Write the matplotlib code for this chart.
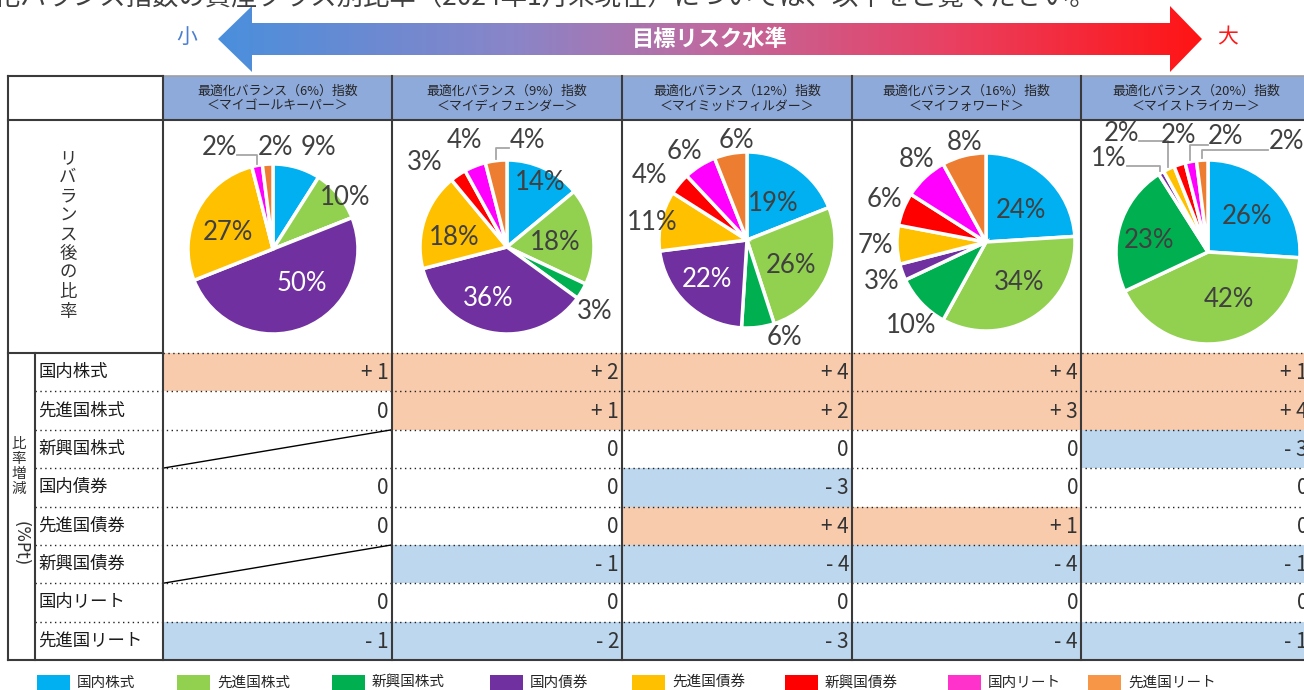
import matplotlib.pyplot as plt
import numpy as np
from matplotlib.colors import LinearSegmentedColormap
from matplotlib.patches import Polygon

plt.rcParams['font.family'] = ['Noto Sans CJK JP', 'DejaVu Sans']

# -------------------------------------------------
# DATA
# -------------------------------------------------

assets = ["国内株式", "先進国株式", "新興国株式", "国内債券",
          "先進国債券", "新興国債券", "国内リート", "先進国リート"]

index_names = ["最適化バランス（6%）指数", "最適化バランス（9%）指数",
               "最適化バランス（12%）指数", "最適化バランス（16%）指数",
               "最適化バランス（20%）指数"]
nicknames = ["＜マイゴールキーパー＞", "＜マイディフェンダー＞",
             "＜マイミッドフィルダー＞", "＜マイフォワード＞", "＜マイストライカー＞"]

# after-rebalance weights (%), same order as assets
weights_6 = [9, 10, 0, 50, 27, 0, 2, 2]
weights_9 = [14, 18, 3, 36, 18, 3, 4, 4]
weights_12 = [19, 26, 6, 22, 11, 4, 6, 6]
weights_16 = [24, 34, 10, 3, 7, 6, 8, 8]
weights_20 = [26, 42, 23, 1, 2, 2, 2, 2]

# change in weight (%Pt), None = not held
change_6 = [1, 0, None, 0, 0, None, 0, -1]
change_9 = [2, 1, 0, 0, 0, -1, 0, -2]
change_12 = [4, 2, 0, -3, 4, -4, 0, -3]
change_16 = [4, 3, 0, 0, 1, -4, 0, -4]
change_20 = [1, 4, -3, 0, 0, -1, 0, -1]

weights = [weights_6, weights_9, weights_12, weights_16, weights_20]
changes = [change_6, change_9, change_12, change_16, change_20]

top_note = "最適化バランス指数の資産クラス別比率（2024年1月末現在）については、以下をご覧ください。"

# -------------------------------------------------
# STYLE / LAYOUT
# -------------------------------------------------

pie_colors = ["#00b0f0", "#92d050", "#00b050", "#7030a0",
              "#ffc000", "#ff0000", "#ff00ff", "#ed7d31"]
legend_colors = ["#00b0f0", "#92d050", "#00b050", "#7030a0",
                 "#ffc000", "#ff0000", "#ff33cc", "#f79646"]
plus_fill = "#f8cbad"
minus_fill = "#bdd7ee"
header_fill = "#8eaadb"
line_col = "#3a3a3a"
text_col = "#333333"

col_edges = [163, 392, 622, 852, 1081, 1311]
left_x, sub_x = 8, 35
head_top, head_bot, pie_bot, table_bot = 76, 120, 353, 660
row_h = (table_bot - pie_bot) / len(assets)

pie_centers = [(273, 249), (507, 247), (747, 240), (986, 242), (1208, 252)]
pie_radius = [85, 87, 88, 89, 92]

# label distance (x radius) and angle nudge (deg) per slice
label_dist = [
    [1.31, 1.04, 0, 0.53, 0.56, 0, 1.35, 1.19],
    [0.83, 0.56, 1.25, 0.63, 0.62, 1.35, 1.32, 1.25],
    [0.51, 0.58, 1.19, 0.64, 1.10, 1.33, 1.23, 1.14],
    [0.53, 0.59, 1.26, 1.25, 1.24, 1.24, 1.21, 1.14],
    [0.57, 0.57, 0.65, 1.48, 1.60, 1.31, 1.27, 1.47],
]
label_nudge = [
    [8, 4, 0, -19, -7, 0, -17, 5],
    [2, 2, 6, 9, -8, -10, 0, 18],
    [1, 5, -14, 2, -2, -6, -3, 5],
    [5, -7, -5, -1, 0, 1, 3, 2],
    [1, -13, -5, -16, -11, 4, 19.5, 39],
]
leaders = [[6], [7], [], [], [3, 4, 6, 7]]

legend_x = [37, 177, 332, 490, 632, 785, 948, 1088]

# -------------------------------------------------
# FIGURE
# -------------------------------------------------

fig = plt.figure(figsize=(13.04, 6.90), dpi=100)
ax = fig.add_axes([0, 0, 1, 1])

# top note (cut off by the page edge)
ax.text(1096, 5, top_note, ha="right", va="baseline", fontsize=19, color="#404040")

# gradient arrow
arrow = Polygon([(218, 39), (252, 6), (252, 23), (1170, 23), (1170, 6), (1202, 39),
                 (1170, 72), (1170, 55), (252, 55), (252, 72)],
                closed=True, facecolor="none", edgecolor="none", transform=ax.transData)
ax.add_patch(arrow)
risk_cmap = LinearSegmentedColormap.from_list(
    "risk", [(0, "#4a8fdc"), (0.3, "#8a85c8"), (0.5, "#bf6aa0"), (0.75, "#ea3f60"), (1, "#ff1414")])
im = ax.imshow(np.linspace(0, 1, 256)[None, :], extent=(218, 1202, 72, 6),
               cmap=risk_cmap, aspect="auto", zorder=2)
im.set_clip_path(arrow)
ax.text(710, 39, "目標リスク水準", ha="center", va="center", fontsize=16,
        fontweight="bold", color="white", zorder=3)
ax.text(187, 37, "小", ha="center", va="center", fontsize=15, color="#4a7fd0")
ax.text(1228, 37, "大", ha="center", va="center", fontsize=15, color="#ff1a1a")

# header cells
for k in range(5):
    x0, x1 = col_edges[k], col_edges[k + 1]
    ax.bar(x0, head_bot - head_top, width=x1 - x0, bottom=head_top, align="edge",
           color=header_fill, zorder=1)
    xc = (x0 + x1) / 2
    ax.text(xc, 91, index_names[k], ha="center", va="center", fontsize=9.3, color="#262626")
    ax.text(xc, 106, nicknames[k], ha="center", va="center", fontsize=9.3, color="#262626")

# change cells
for k in range(5):
    x0, x1 = col_edges[k], col_edges[k + 1]
    for i, v in enumerate(changes[k]):
        y0 = pie_bot + i * row_h
        if v is None:
            ax.plot([x0, x1], [y0 + row_h, y0], color="black", lw=1, zorder=4)
            continue
        if v > 0:
            ax.bar(x0, row_h, width=x1 - x0, bottom=y0, align="edge", color=plus_fill, zorder=1)
            s = f"+ {v}"
        elif v < 0:
            ax.bar(x0, row_h, width=x1 - x0, bottom=y0, align="edge", color=minus_fill, zorder=1)
            s = f"- {abs(v)}"
        else:
            s = "0"
        ax.text(x1 - 3, y0 + row_h / 2 + 1, s, ha="right", va="center",
                fontsize=15, color=text_col, zorder=5)

# asset names
for i, name in enumerate(assets):
    ax.text(sub_x + 3, pie_bot + (i + 0.5) * row_h, name, ha="left", va="center",
            fontsize=12.5, color="#1a1a1a")

# vertical captions
for j, ch in enumerate("リバランス後の比率"):
    ax.text(68, 158 + j * 19.2, ch, ha="center", va="center", fontsize=12.5, color="#333333")
for j, ch in enumerate("比率増減"):
    ax.text(19, 444 + j * 15, ch, ha="center", va="center", fontsize=10.5, color="#333333")
ax.text(21, 544, "(%Pt)", ha="center", va="center", rotation=-90,
        rotation_mode="anchor", fontsize=12, family=["DejaVu Sans"], color="#333333")

# grid lines
for y in [pie_bot + i * row_h for i in range(len(assets))]:
    ax.plot([sub_x if y > pie_bot else col_edges[0], col_edges[-1]], [y, y],
            color="#222222", lw=1, ls=(0, (1, 2.5)), zorder=3)
ax.plot([left_x, col_edges[0]], [pie_bot, pie_bot], color=line_col, lw=1.5, zorder=4)
ax.plot([left_x, col_edges[0]], [head_top, head_top], color=line_col, lw=1.5, zorder=4)
ax.plot([col_edges[0], col_edges[-1]], [head_top, head_top], color="#a0a0a0", lw=1.2, zorder=4)
ax.plot([left_x, col_edges[-1]], [head_bot, head_bot], color=line_col, lw=1.5, zorder=4)
ax.plot([left_x, col_edges[-1]], [table_bot, table_bot], color=line_col, lw=1.5, zorder=4)
for x in [left_x] + col_edges:
    ax.plot([x, x], [head_top, table_bot], color=line_col, lw=1.5, zorder=4)
ax.plot([sub_x, sub_x], [pie_bot, table_bot], color=line_col, lw=1.5, zorder=4)

# pies
for k, w in enumerate(weights):
    cx, cy = pie_centers[k]
    r = pie_radius[k]
    ax.pie(w, colors=pie_colors, startangle=-90, counterclock=True,
           center=(cx, cy), radius=r,
           wedgeprops=dict(edgecolor="white", linewidth=2.5, zorder=2))
    cum = np.cumsum([0] + w)
    for i, v in enumerate(w):
        if v == 0:
            continue
        mid = 3.6 * (cum[i] + cum[i + 1]) / 2
        phi = np.radians(mid + label_nudge[k][i])
        d = label_dist[k][i]
        lx = cx + d * r * np.sin(phi)
        ly = cy - d * r * np.cos(phi)
        c = "white" if (i == 3 and d < 1) else "#404040"
        ax.text(lx, ly, f"{v}%", ha="center", va="center", fontsize=18.5,
                family=["Lato", "DejaVu Sans"], color=c, zorder=6)
        if i in leaders[k]:
            sx = cx + 1.02 * r * np.sin(np.radians(mid))
            sy = cy - 1.02 * r * np.cos(np.radians(mid))
            ex = lx + 18 if lx < sx else lx - 18
            ey = ly + 8
            ax.plot([ex, sx, sx], [ey, ey, sy], color="#a6a6a6", lw=1.3, zorder=5)

# legend
for i, name in enumerate(assets):
    ax.bar(legend_x[i], 18, width=33, bottom=675, align="edge", color=legend_colors[i])
    ax.text(legend_x[i] + 40, 683, name, ha="left", va="center", fontsize=10.5, color="#262626")

ax.set_xlim(0, 1304)
ax.set_ylim(690, 0)
ax.set_aspect("auto")
ax.axis("off")

plt.savefig("out.png", dpi=100)
